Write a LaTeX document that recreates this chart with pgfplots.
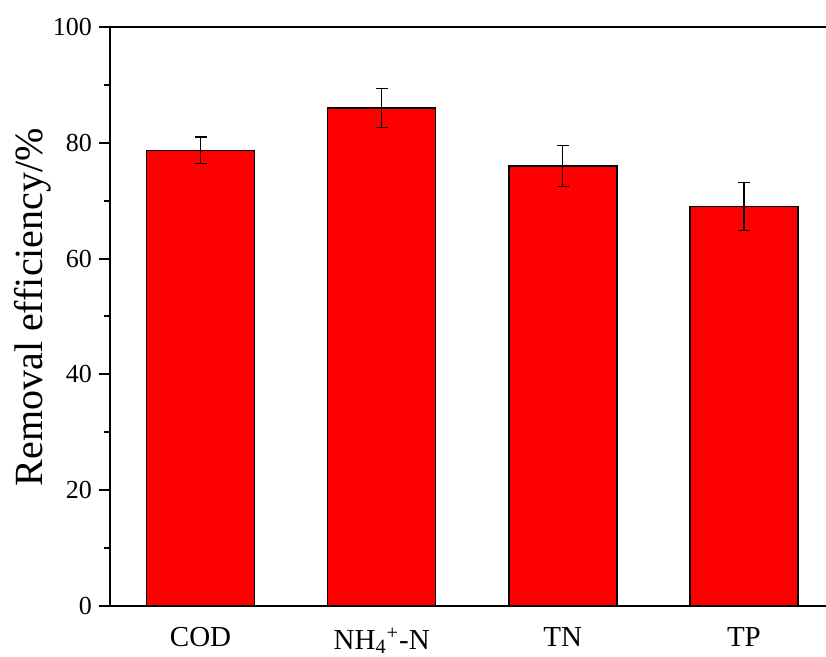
\documentclass[border=0pt]{standalone}
\usepackage{fontspec}
\setmainfont{Liberation Serif}
\usepackage{pgfplots}
\pgfplotsset{compat=1.18}
\begin{document}
\begin{tikzpicture}
    \begin{axis}[
            at={(0,0)}, anchor=south west,
            scale only axis,
            width=358pt, height=289.5pt,
            xmin=-0.5, xmax=3.453,
            ymin=0, ymax=100,
            axis x line=box, axis y line=left,
            axis line style={line width=1pt, -},
            xtick={0,1,2,3},
            xticklabels={COD, NH\textsubscript{4}\textsuperscript{+}-N, TN, TP},
            x tick style={draw=none},
            xticklabel style={font=\fontsize{14.5}{16}\selectfont, yshift=-1.8pt},
            ytick={0,20,...,100},
            minor ytick={10,30,...,90},
            y tick style={line width=1pt, black},
            tick align=outside,
            major tick length=5.5pt,
            minor tick length=3pt,
            yticklabel style={font=\fontsize{13}{15}\selectfont},
            /pgf/number format/assume math mode=true,
            ylabel={Removal efficiency/\%},
            every axis y label/.style={at={(axis description cs:-0.108,0.516)}, rotate=90, anchor=center},
            ylabel style={font=\fontsize{20}{24}\selectfont},
        ]
        \addplot [ybar, bar width=54pt, fill=red, draw=black, line width=0.8pt,
            error bars/.cd, y dir=both, y explicit,
            error bar style={line width=0.6pt, black},
            error mark options={rotate=90, mark size=3pt, line width=0.6pt, black}]
            coordinates {
                (0,78.7) +- (0,2.3)
                (1,86.0) +- (0,3.4)
                (2,76.0) +- (0,3.6)
                (3,69.0) +- (0,4.2)
            };
    \end{axis}
    \pgfresetboundingbox
    \path (-55pt,-25.5pt) rectangle (358pt,303pt);
\end{tikzpicture}
\end{document}
